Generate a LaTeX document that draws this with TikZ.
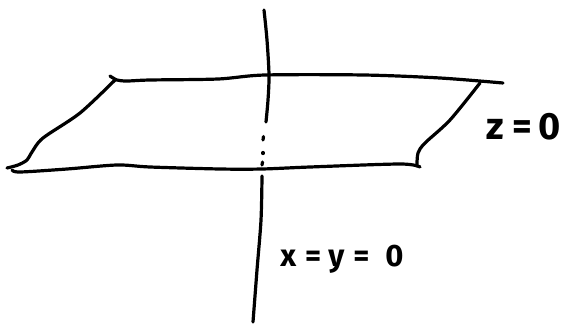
\documentclass[tikz,border=0pt]{standalone}
\usepackage{fontspec}
\setmainfont{Fira Sans}
\begin{document}
\begin{tikzpicture}[x=1pt,y=-1pt,
  pen/.style={line width=3.2pt, line cap=round, line join=round},
  lbl/.style={inner sep=0pt, anchor=center}]
\useasboundingbox (0,0) rectangle (570,327);
% vertical line x=y=0, upper part
\draw[pen] plot[smooth] coordinates {(264,10) (267,40) (269,75) (268,100) (266,122)};
% hidden part (dotted)
\draw[pen] (263.5,136.5) -- (263,140);
\draw[pen] (263,152.5) -- (263,153.5);
\draw[pen] (262.5,162) -- (262,165);
% lower part
\draw[pen] plot[smooth] coordinates {(262,176) (261,220) (257,270) (253,322)};
% plane z=0 : top edge
\draw[pen] plot[smooth] coordinates {(110,76) (117,80) (127,81) (150,80) (218,79) (265,75) (364,75) (440,78) (503,83)};
% left edge
\draw[pen] plot[smooth] coordinates {(115,80) (80,113) (43,138) (32,152) (27,160) (18,165) (7,168)};
% bottom edge
\draw[pen] plot[smooth] coordinates {(12,170) (20,172) (67,169) (117,165) (150,167) (220,169) (262,169) (310,167) (400,164) (420,167)};
% right edge
\draw[pen] plot[smooth] coordinates {(480,83) (450,120) (425,143) (418,153) (417,166)};
% labels
\node[lbl, font=\bfseries\fontsize{38}{38}\selectfont] (zlab) at (524,127) {z\hspace{8pt}=\hspace{7pt}0};
\node[lbl, font=\bfseries\fontsize{31}{31}\selectfont] (xlab) at (342,259) {x\hspace{9pt}=\hspace{7pt}y\hspace{9pt}=\hspace{16pt}0};
\end{tikzpicture}
\end{document}
